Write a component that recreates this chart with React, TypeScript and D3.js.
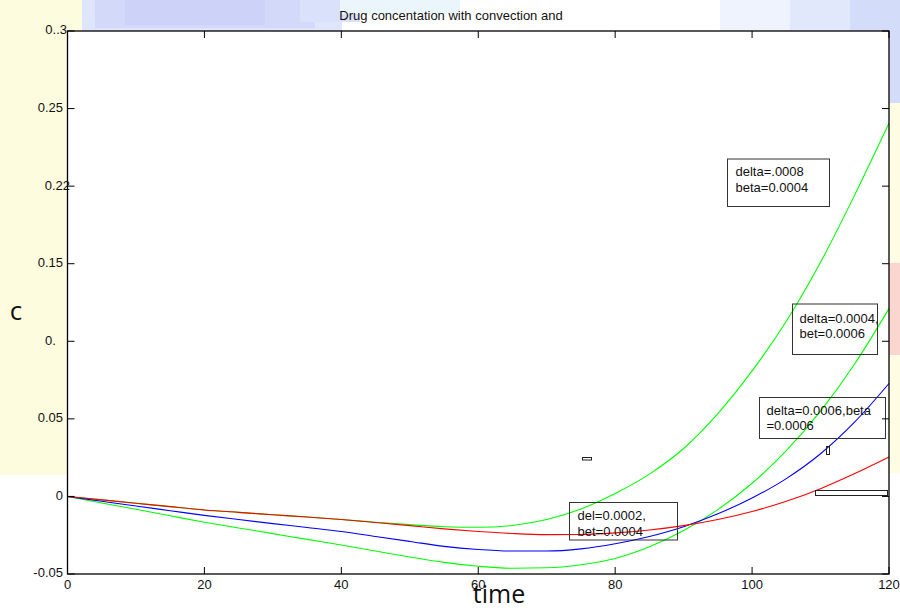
import React from "react";
import * as d3 from "d3";

const times = [0, 5, 10, 15, 20, 25, 30, 35, 40, 45, 50, 55, 60, 65, 70, 75, 80, 85, 90, 95, 100, 105, 110, 115, 120];
// delta=.0008, beta=0.0004 (upper green)
const greenUpper = [0, -0.0022, -0.0044, -0.0066, -0.0087, -0.0103, -0.0118, -0.0133, -0.0149, -0.0166, -0.0182, -0.0195, -0.0199, -0.0187, -0.0149, -0.0081, 0.0019, 0.0144, 0.0309, 0.0534, 0.0809, 0.1129, 0.1509, 0.1944, 0.2406];
// delta=0.0004, bet=0.0006 (lower green)
const greenLower = [0, -0.0042, -0.0083, -0.0125, -0.0166, -0.0203, -0.024, -0.0277, -0.0313, -0.0352, -0.039, -0.0425, -0.045, -0.0463, -0.046, -0.044, -0.04, -0.0325, -0.022, -0.0085, 0.0085, 0.0295, 0.055, 0.0855, 0.1211];
// delta=0.0006, beta=0.0006 (blue)
const blueSeries = [0, -0.0031, -0.0062, -0.0092, -0.0122, -0.0149, -0.0175, -0.02, -0.0226, -0.0258, -0.029, -0.0322, -0.0342, -0.0352, -0.0352, -0.0338, -0.0305, -0.0258, -0.0195, -0.0112, -0.001, 0.0115, 0.0275, 0.048, 0.0728];
// del=0.0002, bet=0.0004 (red)
const redSeries = [0, -0.0022, -0.0044, -0.0066, -0.0087, -0.0103, -0.0118, -0.0133, -0.0149, -0.0168, -0.0188, -0.0209, -0.0226, -0.0239, -0.0246, -0.0245, -0.0235, -0.0216, -0.0188, -0.0149, -0.0097, -0.0031, 0.005, 0.0147, 0.0254];

const xTicks = [0, 20, 40, 60, 80, 100, 120];
const xTickLabels = ["0", "20", "40", "60", "80", "100", "120"];
const yTicks = [-0.05, 0, 0.05, 0.1, 0.15, 0.2, 0.25, 0.3];
const yTickLabels = ["-0.05", "0", "0.05", "0.", "0.15", "0.22", "0.25", "0..3"];

const boxLabels = [
  ["delta=.0008", "beta=0.0004"],
  ["delta=0.0004,", "bet=0.0006"],
  ["delta=0.0006,beta", "=0.0006"],
  ["del=0.0002,", "bet=0.0004"],
];

const titleText = "Drug concentation with convection and";

export default function App() {
  const W = 900, H = 611;
  const left = 67.5, right = 889, top = 31, bottom = 574;
  const x = d3.scaleLinear().domain([0, 120]).range([left, right]);
  const y = d3.scaleLinear().domain([-0.05, 0.3]).range([bottom, top]);
  const line = d3
    .line<number>()
    .x((_, i) => x(times[i]))
    .y((d) => y(d))
    .curve(d3.curveMonotoneX);

  const series = [
    { v: greenUpper, c: "#00ff00" },
    { v: greenLower, c: "#00ff00" },
    { v: blueSeries, c: "#0000ff" },
    { v: redSeries, c: "#ff0000" },
  ];

  const boxes = [
    { x0: 727.5, y0: 159, x1: 829.5, y1: 206.5, tx: 735.5, ty: [173, 189] },
    { x0: 792.5, y0: 304, x1: 877.5, y1: 354.5, tx: 799.5, ty: [319.5, 334.5] },
    { x0: 759.5, y0: 397.5, x1: 885.5, y1: 438.5, tx: 766.5, ty: [412, 427] },
    { x0: 569.5, y0: 502.5, x1: 677.5, y1: 540, tx: 577.5, ty: [516.5, 533] },
  ];

  const font = "'Liberation Sans', Arial, sans-serif";

  const yLabelPos = (i: number) => {
    const lab = yTickLabels[i];
    if (lab === "0..3") return { x: 67, anchor: "end" };
    if (lab === "0.22") return { x: 70, anchor: "end" };
    if (lab === "0.") return { x: 45, anchor: "start" };
    return { x: 63, anchor: "end" };
  };

  return (
    <svg width={W} height={H} style={{ position: "absolute", left: 0, top: 0 }}>
      <rect x={0} y={0} width={W} height={H} fill="#ffffff" />
      {/* slide background */}
      <g>
        <rect x={82} y={0} width={260} height={31} fill="#dfe5fb" />
        <rect x={95} y={0} width={220} height={28} fill="#d3daf9" />
        <rect x={125} y={0} width={140} height={25} fill="#cdd3f8" />
        <rect x={300} y={0} width={60} height={22} fill="#d9e2fa" />
        <rect x={340} y={0} width={120} height={14} fill="#eaf6fc" />
        <rect x={720} y={0} width={180} height={31} fill="#eef3fd" />
        <rect x={790} y={0} width={110} height={31} fill="#e1e8fb" />
        <rect x={850} y={0} width={50} height={31} fill="#d3dcf8" />
        <rect x={889} y={31} width={11} height={72} fill="#d3dcf8" />
      </g>
      <rect x={0} y={0} width={67} height={475} fill="#fefcdf" />
      <rect x={0} y={0} width={82} height={31} fill="#fefcdf" />
      <rect x={889} y={103} width={11} height={160} fill="#fefce2" />
      <rect x={889} y={355} width={11} height={118} fill="#fefce2" />
      <rect x={889} y={263} width={11} height={92} fill="#fbd6d0" />

      {/* plot area */}
      <rect x={left} y={top} width={right - left} height={bottom - top} fill="#ffffff" />

      {/* lines */}
      {series.map((s, i) => (
        <path key={i} d={line(s.v) || ""} fill="none" stroke={s.c} strokeWidth={1.1} />
      ))}

      {/* small annotation boxes */}
      <rect x={582.5} y={457.5} width={9} height={2.5} fill="none" stroke="#222" strokeWidth={1} />
      <rect x={826.5} y={446.5} width={3} height={8} fill="none" stroke="#222" strokeWidth={1} />
      <rect x={815.5} y={490.5} width={72} height={5} fill="none" stroke="#222" strokeWidth={1} />

      {/* text boxes */}
      {boxes.map((b, i) => (
        <g key={i}>
          <rect x={b.x0} y={b.y0} width={b.x1 - b.x0} height={b.y1 - b.y0} fill="none" stroke="#333" strokeWidth={1} />
          {boxLabels[i].map((t, j) => (
            <text key={j} x={b.tx} y={b.ty[j]} dominantBaseline="middle" fontFamily={font} fontSize={13} fill="#111">
              {t}
            </text>
          ))}
        </g>
      ))}

      {/* axes box */}
      <rect x={left} y={top} width={right - left} height={bottom - top} fill="none" stroke="#000" strokeWidth={1.3} />

      {/* x ticks */}
      {xTicks.map((t, i) => (
        <g key={i}>
          <line x1={x(t)} x2={x(t)} y1={bottom} y2={bottom - 7} stroke="#000" />
          <line x1={x(t)} x2={x(t)} y1={top} y2={top + 7} stroke="#000" />
          <text x={x(t)} y={586} textAnchor="middle" dominantBaseline="middle" fontFamily={font} fontSize={13} fill="#111">
            {xTickLabels[i]}
          </text>
        </g>
      ))}

      {/* y ticks */}
      {yTicks.map((t, i) => {
        const p = yLabelPos(i);
        return (
          <g key={i}>
            <line x1={left} x2={left + 7} y1={y(t)} y2={y(t)} stroke="#000" />
            <line x1={right} x2={right - 7} y1={y(t)} y2={y(t)} stroke="#000" />
            <text x={p.x} y={y(t)} textAnchor={p.anchor as any} dominantBaseline="middle" fontFamily={font} fontSize={13} fill="#111">
              {yTickLabels[i]}
            </text>
          </g>
        );
      })}

      {/* title */}
      <text x={451} y={17} textAnchor="middle" dominantBaseline="middle" fontFamily={font} fontSize={13} fill="#111">
        {titleText}
      </text>

      {/* axis labels */}
      <text x={16} y={313} textAnchor="middle" dominantBaseline="middle" fontFamily="'Open Sans', sans-serif" fontSize={26} fill="#111">
        c
      </text>
      <text x={499} y={596} textAnchor="middle" dominantBaseline="middle" fontFamily="'Open Sans', sans-serif" fontSize={25} fill="#111">
        time
      </text>
    </svg>
  );
}
